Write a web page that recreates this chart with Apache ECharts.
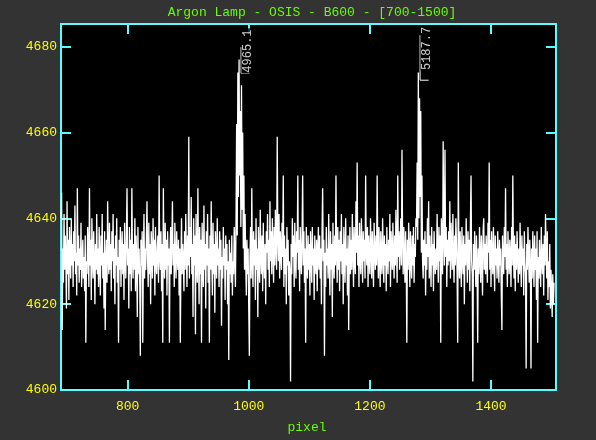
<!DOCTYPE html>
<html>
<head>
<meta charset="utf-8">
<script src="https://cdn.jsdelivr.net/npm/echarts@6/dist/echarts.min.js"></script>
<style>
html,body{margin:0;padding:0;background:#333333;}
#chart{width:596px;height:440px;}
</style>
</head>
<body>
<div id="chart"></div>
<script>
const titleText = 'Argon Lamp - OSIS - B600 - [700-1500]';
const xAxisName = 'pixel';
const xTicks = [800, 1000, 1200, 1400];
const yTicks = [4600, 4620, 4640, 4660, 4680];
const xRange = [690, 1507.3];
const yRange = [4600, 4685.3];
const pixelStart = 690;
const flux = [
4640,4646,4614,4633,4625,4641,4628,4636,4630,4619,4644,4627,4635,4621,4638,4631,4626,4640,4629,4634,
4624,4637,4630,4643,4627,4632,4622,4647,4629,4636,4625,4633,4628,4639,4624,4630,4635,4626,4631,4623,
4636,4611,4630,4627,4638,4633,4624,4647,4629,4635,4621,4640,4632,4626,4637,4630,4620,4634,4628,4641,
4627,4633,4624,4638,4630,4622,4636,4629,4641,4626,4632,4619,4637,4614,4630,4635,4625,4644,4631,4627,
4639,4628,4634,4623,4637,4630,4641,4626,4633,4620,4636,4629,4640,4625,4631,4611,4635,4628,4638,4624,
4632,4637,4627,4634,4621,4639,4630,4626,4636,4647,4629,4633,4619,4638,4627,4635,4623,4647,4631,4626,
4634,4628,4640,4623,4636,4630,4617,4638,4627,4633,4625,4608,4635,4629,4637,4611,4630,4641,4626,4633,
4628,4636,4644,4630,4624,4639,4627,4634,4620,4637,4631,4626,4640,4629,4635,4622,4638,4630,4627,4633,
4636,4625,4650,4631,4628,4637,4623,4634,4611,4647,4630,4626,4639,4628,4635,4622,4637,4629,4633,4611,
4632,4638,4627,4635,4644,4629,4634,4624,4639,4630,4626,4637,4631,4628,4635,4622,4633,4611,4629,4640,
4627,4634,4630,4623,4637,4628,4641,4632,4624,4636,4629,4659,4626,4638,4631,4645,4627,4634,4617,4640,
4629,4636,4613,4641,4630,4625,4647,4632,4620,4638,4627,4635,4611,4639,4630,4624,4643,4628,4634,4619,
4637,4629,4641,4625,4633,4611,4636,4628,4644,4630,4622,4639,4627,4634,4618,4637,4631,4626,4640,4629,
4633,4624,4637,4628,4635,4615,4631,4626,4638,4629,4633,4621,4636,4628,4634,4620,4630,4607,4635,4627,
4632,4625,4636,4622,4630,4627,4638,4631,4624,4640,4662,4636,4674,4645,4677,4650,4665,4638,4671,4642,
4660,4633,4650,4628,4641,4630,4622,4635,4627,4633,4619,4608,4631,4638,4626,4647,4630,4624,4637,4629,
4635,4621,4640,4628,4633,4617,4638,4630,4625,4642,4631,4627,4636,4623,4639,4630,4626,4634,4620,4637,
4632,4641,4628,4635,4624,4644,4630,4637,4627,4640,4633,4625,4638,4629,4642,4634,4628,4659,4636,4630,
4641,4626,4637,4632,4628,4639,4631,4650,4624,4636,4627,4633,4620,4638,4629,4635,4622,4630,4627,4602,
4634,4627,4640,4631,4636,4624,4639,4630,4626,4637,4632,4650,4628,4635,4623,4638,4631,4627,4636,4650,
4629,4637,4625,4633,4611,4638,4630,4626,4636,4628,4634,4622,4637,4631,4625,4638,4629,4633,4621,4636,
4630,4627,4635,4623,4632,4638,4628,4636,4626,4633,4620,4637,4647,4630,4635,4608,4632,4624,4638,4629,
4633,4626,4641,4630,4622,4637,4628,4634,4617,4639,4631,4626,4636,4629,4650,4632,4625,4638,4628,4635,
4623,4637,4630,4641,4627,4634,4620,4638,4631,4625,4640,4629,4633,4622,4636,4614,4630,4638,4627,4635,
4628,4641,4633,4624,4638,4630,4627,4644,4632,4653,4629,4636,4624,4639,4631,4627,4640,4633,4625,4637,
4630,4635,4626,4650,4632,4629,4638,4624,4636,4631,4627,4640,4633,4626,4637,4630,4624,4639,4632,4628,
4636,4629,4650,4633,4626,4638,4631,4624,4637,4630,4627,4640,4632,4625,4636,4629,4634,4623,4638,4631,
4627,4635,4630,4641,4624,4637,4632,4628,4639,4631,4626,4636,4629,4642,4633,4625,4650,4631,4637,4628,
4634,4640,4629,4656,4636,4627,4638,4631,4625,4637,4630,4611,4635,4628,4639,4632,4624,4637,4630,4626,
4636,4629,4638,4625,4634,4631,4640,4638,4653,4635,4674,4640,4668,4645,4665,4632,4650,4630,4626,4635,
4629,4637,4622,4634,4628,4640,4631,4644,4626,4636,4630,4624,4638,4629,4634,4623,4637,4630,4627,4633,
4628,4641,4632,4625,4638,4630,4636,4611,4640,4633,4627,4658,4636,4629,4656,4631,4638,4624,4635,4629,
4637,4630,4644,4626,4639,4633,4628,4641,4631,4625,4636,4629,4640,4634,4627,4611,4653,4632,4626,4637,
4630,4624,4638,4631,4627,4636,4620,4634,4629,4640,4632,4625,4637,4628,4635,4623,4639,4650,4630,4627,
4602,4634,4628,4637,4630,4624,4636,4629,4611,4633,4627,4638,4631,4625,4636,4630,4622,4637,4640,4628,
4634,4627,4636,4630,4625,4639,4632,4653,4628,4635,4624,4637,4631,4627,4638,4630,4623,4636,4629,4633,
4626,4637,4631,4625,4635,4629,4633,4622,4614,4636,4630,4627,4638,4631,4647,4628,4634,4624,4637,4630,
4627,4635,4631,4624,4638,4629,4650,4632,4626,4636,4623,4634,4628,4637,4631,4625,4633,4627,4639,4630,
4624,4636,4629,4633,4622,4637,4630,4627,4605,4634,4628,4638,4631,4625,4635,4629,4605,4633,4626,4637,
4630,4624,4636,4628,4633,4621,4637,4611,4631,4626,4635,4629,4624,4638,4630,4627,4634,4622,4636,4629,
4641,4632,4626,4637,4621,4630,4624,4634,4619,4628,4623,4617,4627,4620,4625
];
// line identifications
const lineIdLabels = ['4965.1', '5187.7'];
const lineIdPixel = [987.3, 1282.9];
const lineIdBase = [4673.8, 4672.2];
const lineIdTop = [4679.9, 4682.7];
const lineIdTextY = [4679.0, 4679.6];

const spectrum = flux.map((v, i) => [pixelStart + i, v]);

const CYAN = '#55ffff';
const YELLOW = '#ffff00';
const GREEN = '#66ff00';
const FONT = 'Liberation Mono';

const hookSeries = lineIdLabels.map((lab, k) => ({
  type: 'line',
  data: [[lineIdPixel[k], lineIdTop[k]], [lineIdPixel[k], lineIdBase[k]], [lineIdPixel[k] + 14, lineIdBase[k]]],
  showSymbol: false, symbol: 'none', silent: true, animation: false,
  lineStyle: { color: '#ffffff', width: 1 },
  z: 4
}));

const labelSeries = {
  type: 'scatter',
  data: lineIdLabels.map((lab, k) => ({ value: [lineIdPixel[k] + 10.5, lineIdTextY[k]], name: lab })),
  symbolSize: 1,
  itemStyle: { color: 'rgba(0,0,0,0)' },
  silent: true, animation: false,
  label: {
    show: true, position: 'inside', rotate: 90,
    formatter: p => p.name,
    color: '#ffffff', fontFamily: FONT, fontSize: 12,
    backgroundColor: '#000000', padding: [0, 1, 0, 1]
  },
  z: 5
};

const plainNum = v => String(v);

function tickCfg(vals) {
  return { show: true, inside: true, length: 10, customValues: vals, lineStyle: { color: CYAN, width: 2 } };
}
function axisCommon(extra) {
  return Object.assign({
    type: 'value',
    axisLine: { show: true, onZero: false, lineStyle: { color: CYAN, width: 2 } },
    splitLine: { show: false }
  }, extra);
}

const chart = echarts.init(document.getElementById('chart'), null, { renderer: 'canvas' });
chart.setOption({
  backgroundColor: '#333333',
  animation: false,
  grid: { left: 61, top: 24, width: 495, height: 366, show: true, backgroundColor: '#000000', borderWidth: 0 },
  graphic: [
    { type: 'text', x: 312, y: 13, style: { text: titleText, fill: GREEN, font: '13px "Liberation Mono"', textAlign: 'center', textVerticalAlign: 'middle' } },
    { type: 'text', x: 307, y: 428, style: { text: xAxisName, fill: GREEN, font: '13px "Liberation Mono"', textAlign: 'center', textVerticalAlign: 'middle' } }
  ],
  xAxis: [
    axisCommon({ position: 'bottom', min: xRange[0], max: xRange[1], axisTick: tickCfg(xTicks),
      axisLabel: { show: true, customValues: xTicks, formatter: plainNum, color: YELLOW, fontFamily: FONT, fontSize: 13, margin: 10 } }),
    axisCommon({ position: 'top', min: xRange[0], max: xRange[1], axisTick: tickCfg(xTicks), axisLabel: { show: false } })
  ],
  yAxis: [
    axisCommon({ position: 'left', min: yRange[0], max: yRange[1], axisTick: tickCfg(yTicks),
      axisLabel: { show: true, customValues: yTicks, formatter: plainNum, color: YELLOW, fontFamily: FONT, fontSize: 13, margin: 4 } }),
    axisCommon({ position: 'right', min: yRange[0], max: yRange[1], axisTick: tickCfg(yTicks), axisLabel: { show: false } })
  ],
  series: [
    {
      type: 'line', data: spectrum, showSymbol: false, symbol: 'none',
      sampling: null, silent: true, animation: false,
      lineStyle: { color: '#ffffff', width: 1.3 }, z: 3
    },
    ...hookSeries,
    labelSeries
  ]
});
</script>
</body>
</html>
